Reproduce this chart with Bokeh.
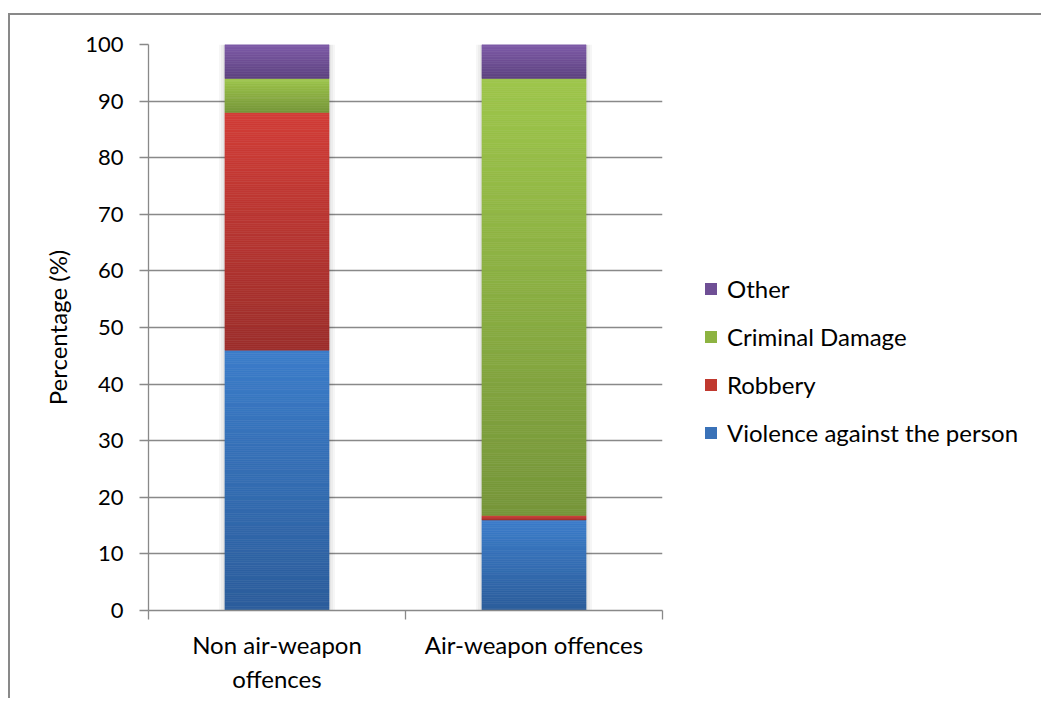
import numpy as np
from bokeh.plotting import figure
from bokeh.models import ColumnDataSource, FixedTicker, Legend, LegendItem, Range1d
from bokeh.embed import file_html
from bokeh.resources import INLINE

# ---- data ----
categories = ["Non air-weapon offences", "Air-weapon offences"]
category_labels = ["Non air-weapon\noffences", "Air-weapon offences"]
series_names = ["Violence against the person", "Robbery", "Criminal Damage", "Other"]
violence = [46, 16]
robbery = [42, 0.8]
criminal_damage = [6, 77.2]
other = [6, 6]
y_ticks = [0, 10, 20, 30, 40, 50, 60, 70, 80, 90, 100]

series_values = [violence, robbery, criminal_damage, other]
# (top colour, bottom colour, legend colour)
series_colors = [
    ("#3c7dca", "#2c5d9b", "#3a72b8"),
    ("#d23d37", "#9c2e2b", "#c0392f"),
    ("#9ec64b", "#76963a", "#8db341"),
    ("#7e5ba8", "#5e4380", "#6f4f95"),
]

FONT = "Lato"
GRAY = "#898989"
BAR_W = 0.405


def hex2rgb(h):
    h = h.lstrip("#")
    return np.array([int(h[i:i + 2], 16) for i in (0, 2, 4)], dtype=float)


def rgb2hex(c):
    return "#%02x%02x%02x" % tuple(int(round(v)) for v in c)


xs = [i + 0.5 for i in range(len(categories))]

# gradient slices computed from the data
sx, sb, st, sc = [], [], [], []
for ci, x in enumerate(xs):
    base = 0.0
    for vals, (ctop, cbot, _) in zip(series_values, series_colors):
        v = vals[ci]
        b = base
        a, z = hex2rgb(cbot), hex2rgb(ctop)
        n = int(np.ceil(v * 3)) + 2
        for k in range(n):
            f = (k + 0.5) / n
            sx.append(x)
            sb.append(b + v * k / n)
            st.append(b + v * (k + 1) / n)
            sc.append(rgb2hex(a + (z - a) * f))
        base = b + v
slices = ColumnDataSource(dict(x=sx, bottom=sb, top=st, color=sc))

totals = [sum(v[i] for v in series_values) for i in range(len(categories))]

p = figure(
    frame_width=514, frame_height=566,
    min_border_left=138, min_border_top=29, min_border_right=375, min_border_bottom=88,
    x_range=Range1d(0, len(categories)), y_range=Range1d(0, 100),
    output_backend="svg", toolbar_location=None,
)
p.styles = {"border-top": f"2px solid {GRAY}", "border-left": f"2px solid {GRAY}",
            "margin-top": "13px", "margin-left": "8px"}
p.outline_line_color = None
p.background_fill_color = "white"
p.border_fill_color = "white"

# soft shadow behind bars
px = len(categories) / 514.0
for k in (2, 4, 6):
    p.vbar(x=xs, bottom=0, top=totals, width=BAR_W + 2 * k * px,
           fill_color="black", fill_alpha=0.035, line_color=None)

p.vbar(x="x", bottom="bottom", top="top", width=BAR_W, source=slices,
       fill_color="color", line_color="color", line_width=0.6)

# legend proxies (zero-height bars at the baseline)
legend_items = []
for name, (_, _, cmid) in zip(series_names, series_colors):
    r = p.vbar(x=[xs[0]], bottom=[0], top=[0], width=BAR_W, fill_color=cmid, line_color=None)
    legend_items.append(LegendItem(label=name, renderers=[r]))
legend_items = legend_items[::-1]

legend = Legend(items=legend_items, location=(41, 163))
legend.label_text_font = FONT
legend.label_text_font_size = "24px"
legend.label_text_color = "black"
legend.glyph_width = 15
legend.glyph_height = 15
legend.label_height = 29
legend.spacing = 19
legend.label_standoff = 9
legend.padding = 0
legend.margin = 0
legend.border_line_color = None
legend.background_fill_alpha = 0
p.add_layout(legend, "right")

# grid
p.xgrid.grid_line_color = None
p.ygrid.ticker = FixedTicker(ticks=y_ticks)
p.ygrid.grid_line_color = GRAY
p.ygrid.grid_line_width = 1.3

# y axis
p.yaxis.ticker = FixedTicker(ticks=y_ticks)
p.yaxis.axis_line_color = GRAY
p.yaxis.axis_line_width = 1.3
p.yaxis.major_tick_line_color = GRAY
p.yaxis.major_tick_line_width = 1.3
p.yaxis.major_tick_out = 9
p.yaxis.major_tick_in = 0
p.yaxis.minor_tick_line_color = None
p.yaxis.major_label_text_font = FONT
p.yaxis.major_label_text_font_size = "22px"
p.yaxis.major_label_text_color = "black"
p.yaxis.major_label_standoff = 16
p.yaxis.axis_label = "Percentage (%)"
p.yaxis.axis_label_text_font = FONT
p.yaxis.axis_label_text_font_size = "24px"
p.yaxis.axis_label_text_font_style = "normal"
p.yaxis.axis_label_text_color = "black"
p.yaxis.axis_label_standoff = 10

# x axis
p.xaxis.ticker = FixedTicker(ticks=xs, minor_ticks=list(range(len(categories) + 1)))
p.xaxis.major_label_overrides = {x: lab for x, lab in zip(xs, category_labels)}
p.xaxis.axis_line_color = GRAY
p.xaxis.axis_line_width = 1.3
p.xaxis.major_tick_line_color = None
p.xaxis.major_tick_out = 0
p.xaxis.major_tick_in = 0
p.xaxis.minor_tick_line_color = GRAY
p.xaxis.minor_tick_line_width = 1.3
p.xaxis.minor_tick_out = 9
p.xaxis.minor_tick_in = 0
p.xaxis.major_label_text_font = FONT
p.xaxis.major_label_text_font_size = "24px"
p.xaxis.major_label_text_color = "black"
p.xaxis.major_label_standoff = 10

open("out.html", "w").write(file_html(p, INLINE))
